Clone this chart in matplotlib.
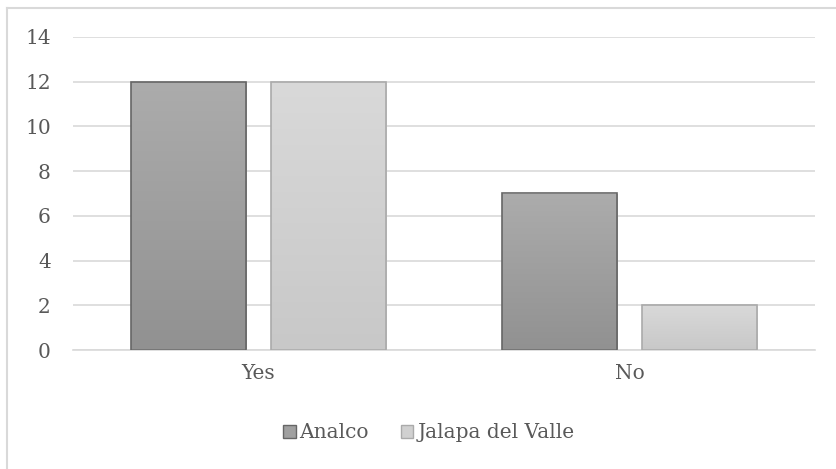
import numpy as np
import matplotlib
matplotlib.use("Agg")
import matplotlib.pyplot as plt
from matplotlib.patches import Rectangle
from matplotlib.colors import LinearSegmentedColormap

# Answers per community
categories = ["Yes", "No"]
analco = [12, 7]
jalapa = [12, 2]
series_names = ["Analco", "Jalapa del Valle"]

plt.rcParams["font.family"] = ["DejaVu Serif"]

fig = plt.figure(figsize=(8.36, 4.69), dpi=100)
ax = fig.add_axes([73 / 836, 1 - 350 / 469, 742 / 836, 313 / 469])

# light outer frame of the chart area
fig.add_artist(plt.Line2D([7 / 836, 7 / 836], [0, 1 - 8.5 / 469],
                          transform=fig.transFigure, color="#d9d9d9", lw=1.5))
fig.add_artist(plt.Line2D([7 / 836, 1], [1 - 8.5 / 469, 1 - 8.5 / 469],
                          transform=fig.transFigure, color="#d9d9d9", lw=1.5))

x = np.arange(len(categories))
width = 0.31
offset = 0.19

dark_cmap = LinearSegmentedColormap.from_list("dark", ["#919191", "#acacac"])
light_cmap = LinearSegmentedColormap.from_list("light", ["#c8c8c8", "#d9d9d9"])
grad = np.linspace(0, 1, 256).reshape(-1, 1)


def gradient_bars(xpos, values, cmap, edge):
    bars = ax.bar(xpos, values, width, facecolor="none", edgecolor=edge,
                  linewidth=1.2, zorder=3)
    for bar in bars:
        x0, y0 = bar.get_x(), bar.get_y()
        w, h = bar.get_width(), bar.get_height()
        im = ax.imshow(grad, extent=[x0, x0 + w, y0, y0 + h], origin="lower",
                       cmap=cmap, aspect="auto", zorder=2)
        clip = Rectangle((x0, y0), w, h, transform=ax.transData)
        im.set_clip_path(clip)
    return bars


gradient_bars(x - offset, analco, dark_cmap, "#666666")
gradient_bars(x + offset, jalapa, light_cmap, "#aaaaaa")

ax.set_xlim(-0.5, 1.5)
ax.set_ylim(0, 14)
ax.set_yticks(range(0, 15, 2))
ax.set_xticks(x)
ax.set_xticklabels(categories)
ax.yaxis.grid(True, color="#d9d9d9", linewidth=1.2, zorder=0)
ax.set_axisbelow(True)
for side in ["top", "right", "left"]:
    ax.spines[side].set_visible(False)
ax.spines["bottom"].set_color("#d9d9d9")
ax.spines["bottom"].set_linewidth(1.2)
ax.tick_params(axis="both", length=0, colors="#595959", labelsize=14.5)
ax.tick_params(axis="y", pad=16)
ax.tick_params(axis="x", pad=10)

handles = [Rectangle((0, 0), 1, 1, facecolor="#a0a0a0", edgecolor="#666666"),
           Rectangle((0, 0), 1, 1, facecolor="#d0d0d0", edgecolor="#aaaaaa")]
fig.legend(handles, series_names, loc="center", bbox_to_anchor=(429 / 836, 1 - 433 / 469),
           ncol=2, frameon=False, fontsize=14.5, labelcolor="#595959",
           handlelength=0.6, handleheight=0.6, handletextpad=0.2, columnspacing=1.6)

fig.savefig("out.png", dpi=100)
